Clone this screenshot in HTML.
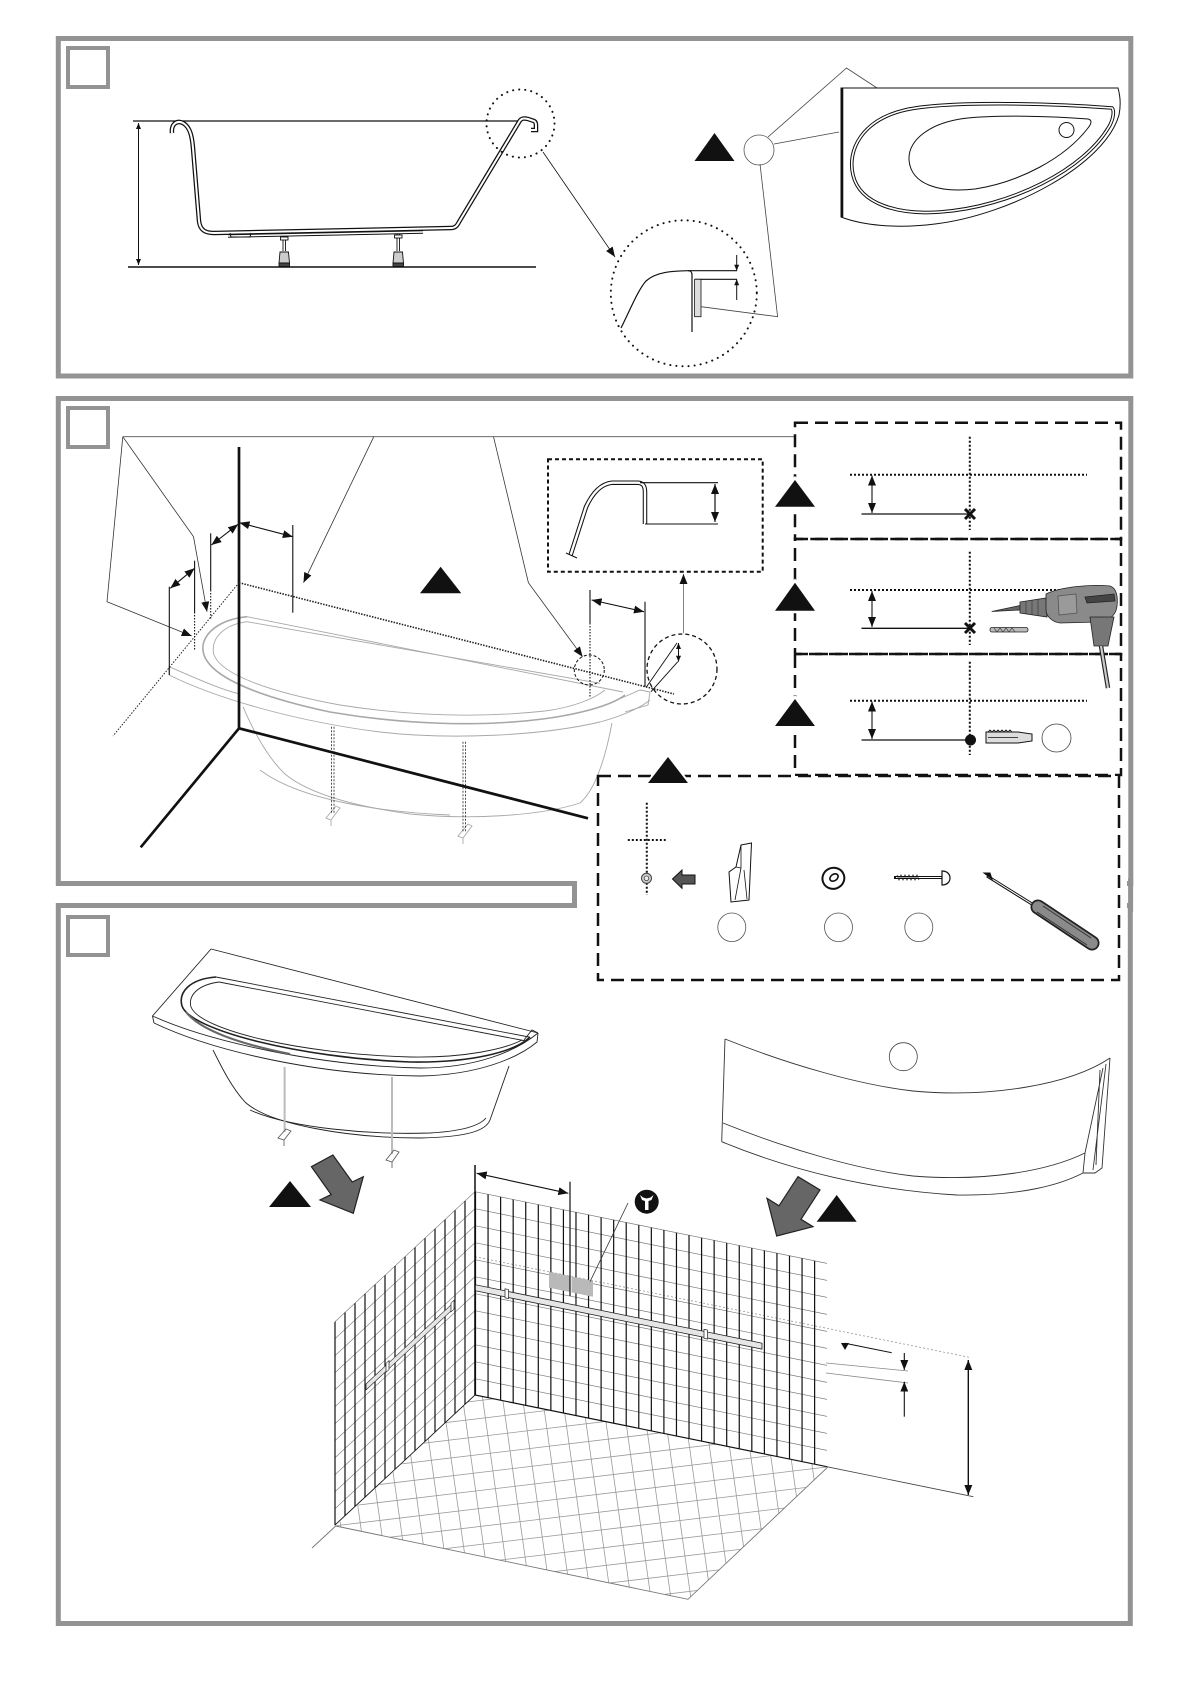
<!DOCTYPE html>
<html><head><meta charset="utf-8"><style>html,body{margin:0;padding:0;background:#fff;}svg{display:block}</style></head>
<body>
<svg width="1192" height="1685" viewBox="0 0 1192 1685" xmlns="http://www.w3.org/2000/svg" font-family="Liberation Sans, sans-serif">
<defs>
<marker id="a" markerUnits="userSpaceOnUse" markerWidth="10" markerHeight="8" viewBox="0 0 10 8" refX="10" refY="4" orient="auto-start-reverse"><path d="M0,0L10,4L0,8Z" fill="#111"/></marker>
<marker id="s" markerUnits="userSpaceOnUse" markerWidth="6" markerHeight="5" viewBox="0 0 6 5" refX="6" refY="2.5" orient="auto-start-reverse"><path d="M0,0L6,2.5L0,5Z" fill="#111"/></marker>
<clipPath id="floorclip"><polygon points="475,1395 335.7,1526 688,1599.3 827.5,1467.3"/></clipPath>
</defs>

<!-- PANEL FRAMES -->
<rect x="58.3" y="38.5" width="1072.5" height="337.5" fill="none" stroke="#939393" stroke-width="5"/>
<rect x="58.3" y="398.5" width="1072.5" height="485" fill="none" stroke="#939393" stroke-width="5"/>
<rect x="58.3" y="905.5" width="1072" height="718" fill="none" stroke="#939393" stroke-width="5"/>
<rect x="577" y="876" width="550" height="37" fill="#fff"/>
<line x1="574.5" y1="881" x2="574.5" y2="908" stroke="#939393" stroke-width="5"/>
<line x1="1130.6" y1="878" x2="1130.6" y2="912" stroke="#939393" stroke-width="5"/>
<rect x="68" y="48" width="40" height="39" fill="none" stroke="#939393" stroke-width="4"/>
<rect x="68" y="408" width="40" height="39" fill="none" stroke="#939393" stroke-width="4"/>
<rect x="68" y="917" width="40" height="38" fill="none" stroke="#939393" stroke-width="4"/>

<!-- ================= PANEL 1 ================= -->
<g stroke="#111" fill="none">
<line x1="133" y1="121" x2="520" y2="121" stroke-width="1.2"/>
<line x1="128" y1="267" x2="536" y2="267" stroke-width="1.5"/>
<line x1="138.5" y1="123" x2="138.5" y2="265" stroke-width="1" marker-start="url(#s)" marker-end="url(#s)"/>
<path d="M172,133 C171,124 177,120 183,123 C190,127 192,136 193,148 L199,221 C200,230 205,233 214,233 L451,228 C455,228 457,226 459,222 L519,122 C521,118 524,118 528,119 L534,121 C536,122 536,124 536,126 L536,130 L531,130" stroke-width="4.5"/>
<path d="M172,133 C171,124 177,120 183,123 C190,127 192,136 193,148 L199,221 C200,230 205,233 214,233 L451,228 C455,228 457,226 459,222 L519,122 C521,118 524,118 528,119 L534,121 C536,122 536,124 536,126 L536,130 L531,130" stroke="#fff" stroke-width="2"/>
<path d="M228,236 L423,232" stroke-width="3.5"/>
<path d="M228,236 L423,232" stroke="#fff" stroke-width="1.5"/>
<path d="M230,233 L231,237 L250,237 L251,233" stroke-width="1"/>
<g stroke-width="0.9">
<line x1="283" y1="236" x2="283" y2="251"/><line x1="285.5" y1="236" x2="285.5" y2="251"/>
<rect x="280.5" y="237" width="7.5" height="3" fill="#fff"/>
<path d="M280,252 L288.5,252 L289.5,263 L279,263 Z" fill="#ccc"/>
<rect x="279" y="263" width="10.5" height="3.5" fill="#444"/>
<line x1="397" y1="234" x2="397" y2="251"/><line x1="399.5" y1="234" x2="399.5" y2="251"/>
<rect x="394.5" y="235" width="7.5" height="3" fill="#fff"/>
<path d="M394,252 L402.5,252 L403.5,263 L393,263 Z" fill="#ccc"/>
<rect x="393" y="263" width="10.5" height="3.5" fill="#444"/>
</g>
<circle cx="520.5" cy="123.5" r="34" stroke-width="2" stroke-dasharray="0.1 6" stroke-linecap="round"/>
<line x1="543" y1="152" x2="615" y2="257" stroke-width="0.8" marker-end="url(#a)"/>
<circle cx="683.8" cy="293.3" r="73" stroke-width="2" stroke-dasharray="0.1 6" stroke-linecap="round"/>
<path d="M621,328 C630,310 638,290 646,281 C656,272 672,271 688,270.7 C691,270.7 692,272 692,275 L692,332" stroke-width="1.2"/>
<line x1="688" y1="270.7" x2="737" y2="270.7" stroke-width="1.2"/>
<line x1="695" y1="279.3" x2="737" y2="279.3" stroke-width="1.2"/>
<rect x="694.6" y="279.3" width="6.4" height="37.4" fill="#ddd" stroke-width="0.8"/>
<line x1="736.7" y1="255" x2="736.7" y2="270.7" stroke-width="1" marker-end="url(#s)"/>
<line x1="736.7" y1="300" x2="736.7" y2="279.3" stroke-width="1" marker-end="url(#s)"/>
<circle cx="759" cy="150" r="15" stroke="#555" stroke-width="0.8"/>
<path d="M768,137 L846.5,68 L877,88 M774,144 L839,132 M760,164 L777.6,316.7 L701,306.7" stroke="#444" stroke-width="0.8"/>
<path d="M841,88 L1118,88 C1120,95 1121,105 1119,115 C1105,165 1010,215 935,224 C895,229 862,225 841,217 Z" stroke-width="1"/>
<line x1="842" y1="88" x2="842" y2="217" stroke-width="2.6"/>
<path d="M1112,108 C1060,104 950,100 905,110 C862,120 847,150 853,175 C860,205 900,215 940,212 C1010,207 1085,170 1110,125 C1114,117 1114,110 1112,108 Z" stroke-width="3.6"/>
<path d="M1112,108 C1060,104 950,100 905,110 C862,120 847,150 853,175 C860,205 900,215 940,212 C1010,207 1085,170 1110,125 C1114,117 1114,110 1112,108 Z" stroke="#fff" stroke-width="1.6"/>
<path d="M1088,119 C1050,116 1000,115 968,118 C930,122 908,140 909,160 C911,185 940,193 975,189 C1020,182 1065,158 1088,128 C1092,123 1092,120 1088,119 Z" stroke-width="1"/>
<circle cx="1066.5" cy="130" r="7.5" stroke-width="1"/>
</g>
<path d="M714.5,133 L734.5,161 L694.5,161 Z" fill="#111"/>

<!-- ================= PANEL 2 ================= -->
<g fill="none">
<path d="M122.8,436.7 L795,436.7" stroke="#555" stroke-width="0.9"/>
<path d="M122.8,436.7 L193.5,536.7 L207,611.7" stroke="#333" stroke-width="0.8" marker-end="url(#a)"/>
<path d="M122.8,436.7 L107,601.7 L191.7,636" stroke="#333" stroke-width="0.8" marker-end="url(#a)"/>
<path d="M373.8,436.7 L303.5,582.7" stroke="#333" stroke-width="0.8" marker-end="url(#a)"/>
<path d="M493.5,436.7 L528.4,582.7 L582.6,656.7" stroke="#333" stroke-width="0.8" marker-end="url(#a)"/>

<g stroke="#a8a8a8" stroke-width="0.9">
<path d="M169,666.7 L169,675"/>
<path d="M169,666.7 C200,680 222,690 240,694"/>
<path d="M169,675 C220,700 300,722 380,732 C450,740 540,736 600,722 C625,715 640,708 650,700"/>
<path d="M247,616.7 L623,692"/>
<path d="M247,616.7 C215,620 198,638 204,655 C212,678 260,697 330,712 C400,724 480,728 550,718 C590,712 615,703 625,695" stroke-width="1.6"/>
<path d="M247,621.7 L600,683.3"/>
<path d="M247,621.7 C222,625 210,640 214,655 C222,675 270,692 340,705 C410,716 480,718 545,711 C575,707 595,698 605,690"/>
<path d="M243,706.7 C255,735 270,760 285,774 C310,795 360,807 410,814 C470,820 540,816 580,803 C595,790 605,760 612,723"/>
<path d="M260,770 C300,800 380,812 450,815"/>
<path d="M617,700 L640,690 L650,692 L648,705 L625,712"/>
<path d="M326,818 L336,806 L340,808 L331,820 Z M331,820 L331,826"/>
<path d="M458,836 L468,824 L472,826 L463,838 Z M463,838 L463,844"/>
</g>
<g stroke="#222" stroke-width="0.8" stroke-dasharray="2 1.5">
<path d="M331.5,726.7 L331.5,813.3 M334,726.7 L334,813.3"/>
<path d="M463,741.7 L463,831.7 M465.5,741.7 L465.5,831.7"/>
</g>

<path d="M239,447 L239,728.3 M239,728.3 L140.7,847.3 M239,728.3 L588,818.3" stroke="#111" stroke-width="2.7"/>
<path d="M239,582.7 L674,694" stroke="#222" stroke-width="1.6" stroke-dasharray="1.5 1.3"/>
<path d="M239,582.7 L113,736" stroke="#222" stroke-width="1" stroke-dasharray="1.5 1.5"/>

<g stroke="#111" stroke-width="1.1">
<path d="M169.3,586.7 L169.3,675"/>
<path d="M194.6,560.7 L194.6,612"/><path d="M194.6,612 L194.6,650" stroke-dasharray="1.5 1.5"/>
<path d="M210.7,533.3 L210.7,590"/><path d="M210.7,590 L210.7,620" stroke-dasharray="1.5 1.5"/>
<path d="M292.8,525 L292.8,612.7"/>
<path d="M590,590 L590,623"/><path d="M590,623 L590,696.7" stroke-dasharray="1.5 1.5"/>
<path d="M645,601.7 L645,686.7"/>
<path d="M170.3,588.3 L194.6,568.3" marker-start="url(#a)" marker-end="url(#a)"/>
<path d="M211.4,545 L238.1,524.3" marker-start="url(#a)" marker-end="url(#a)"/>
<path d="M239.5,522.7 L292.8,536.7" marker-start="url(#a)" marker-end="url(#a)"/>
<path d="M591.6,600 L644,611.7" marker-start="url(#a)" marker-end="url(#a)"/>
</g>

<rect x="548" y="459.3" width="214.7" height="112.4" stroke="#111" stroke-width="2" stroke-dasharray="4 3"/>
<path d="M570.6,555 L586,507 C592,494 600,484 612,482.7 L638,482.7 C643,483 645,486 645,492 L645,524" stroke="#111" stroke-width="4.5"/>
<path d="M570.6,555 L586,507 C592,494 600,484 612,482.7 L638,482.7 C643,483 645,486 645,492 L645,524" stroke="#fff" stroke-width="2.4"/>
<path d="M566,553 L577,558" stroke="#111" stroke-width="1"/>
<path d="M640,482.7 L718,482.7 M645,524 L718,524" stroke="#111" stroke-width="1.1"/>
<line x1="715" y1="484" x2="715" y2="522" stroke="#111" stroke-width="1.2" marker-start="url(#a)" marker-end="url(#a)"/>
<line x1="683.5" y1="633" x2="683.5" y2="574" stroke="#777" stroke-width="0.9" marker-end="url(#a)"/>
<circle cx="682" cy="669" r="35" stroke="#111" stroke-width="1.3" stroke-dasharray="4 3"/>
<circle cx="589.3" cy="670" r="15" stroke="#111" stroke-width="1" stroke-dasharray="3 2"/>
<path d="M646.4,687 L677,643 M651,691.7 L677.8,661.7" stroke="#111" stroke-width="0.9"/>
<line x1="678.5" y1="652" x2="678.5" y2="643" stroke="#111" stroke-width="1" marker-end="url(#s)"/>
<line x1="678.5" y1="652" x2="678.5" y2="661.7" stroke="#111" stroke-width="1" marker-end="url(#s)"/>
</g>
<path d="M440.6,566.7 L461.3,593.3 L420,593.3 Z" fill="#111"/>

<g fill="none" stroke="#111" stroke-width="2.5" stroke-dasharray="13 7">
<rect x="795" y="422.7" width="326" height="116.3"/>
<rect x="795" y="539" width="326" height="115"/>
<rect x="795" y="654" width="326" height="121"/>
</g>
<g fill="none" stroke="#111">
<path d="M850,474.7 L1087,474.7" stroke-width="2" stroke-dasharray="2 2"/>
<path d="M969.8,436.7 L969.8,530" stroke-width="2" stroke-dasharray="2 2"/>
<line x1="872" y1="475.5" x2="872" y2="513" stroke-width="1.1" marker-start="url(#a)" marker-end="url(#a)"/>
<line x1="861.5" y1="514" x2="968.6" y2="514" stroke-width="1.3"/>
<path d="M965,509 L975,519 M975,509 L965,519" stroke-width="3"/>
<path d="M850,590 L1087,590" stroke-width="2" stroke-dasharray="2 2"/>
<path d="M969.8,551.7 L969.8,645" stroke-width="2" stroke-dasharray="2 2"/>
<line x1="872" y1="591" x2="872" y2="627" stroke-width="1.1" marker-start="url(#a)" marker-end="url(#a)"/>
<line x1="861.5" y1="628.3" x2="968.6" y2="628.3" stroke-width="1.3"/>
<path d="M965,623 L975,633 M975,623 L965,633" stroke-width="3"/>
<path d="M850,700.7 L1087,700.7" stroke-width="2" stroke-dasharray="2 2"/>
<path d="M969.8,661.7 L969.8,755" stroke-width="2" stroke-dasharray="2 2"/>
<line x1="872" y1="701.5" x2="872" y2="739" stroke-width="1.1" marker-start="url(#a)" marker-end="url(#a)"/>
<line x1="861.5" y1="740" x2="968.6" y2="740" stroke-width="1.3"/>
<circle cx="970.5" cy="740" r="5.5" fill="#111" stroke="none"/>
<path d="M986,732 L1018,732 L1032,734 L1032,741 L1018,743 L986,743 Z" fill="#ddd" stroke-width="1"/>
<path d="M988,732 l2,-2 l2,2 l2,-2 l2,2 l2,-2 l2,2 l2,-2 l2,2 l2,-2 l2,2 l2,-2 l2,2 M988,737.5 L1018,737.5" stroke-width="0.8"/>
<ellipse cx="1056.5" cy="738" rx="14.5" ry="14" stroke="#444" stroke-width="0.8"/>
</g>
<g stroke="#222" stroke-width="0.8">
<path d="M991.7,611.5 L1020,605.5 L1020,610 Z" fill="#666"/>
<path d="M1020,602 L1046,598 L1047,617 L1020,613 Z" fill="#777"/>
<path d="M1026,601 L1026,614 M1032,600 L1032,615 M1038,599.5 L1038,616" stroke="#444"/>
<path d="M1046,594 C1060,587 1090,584 1110,586 C1117,588 1118,598 1117,606 C1116,616 1108,621 1100,622 L1060,623 C1052,622 1046,616 1046,610 Z" fill="#8a8a8a"/>
<path d="M1085,597 L1114,594 L1115,601 L1087,603 Z" fill="#444"/>
<path d="M1058,596 L1076,594 L1077,613 L1059,615 Z" fill="#9a9a9a" stroke="#555"/>
<path d="M1090,617 L1114,617 L1108,646 L1094,646 Z" fill="#777"/>
<path d="M1101,646 L1108,688" stroke="#222" stroke-width="4.5"/>
<path d="M1101,646 L1108,688" stroke="#ccc" stroke-width="2.2"/>
<rect x="990" y="627.5" width="38" height="4.5" rx="2" fill="#bbb"/>
<path d="M994,628 l3,4 l3,-4 l3,4 l3,-4 l3,4 l3,-4 l3,4" fill="none" stroke="#444" stroke-width="0.7"/>
</g>
<g fill="#111" stroke="#fff" stroke-width="5" paint-order="stroke">
<path d="M795,480 L815,506.7 L775,506.7 Z"/>
<path d="M795,582.7 L815,610.7 L775,610.7 Z"/>
<path d="M795,699 L815,726 L775,726 Z"/>
</g>

<rect x="598" y="776" width="521" height="204" fill="#fff" stroke="#111" stroke-width="2.5" stroke-dasharray="13 7"/>
<path d="M668,757 L688,783 L648,783 Z" fill="#111" stroke="#fff" stroke-width="4" paint-order="stroke"/>
<g fill="none" stroke="#111">
<path d="M627.8,840 L665.7,840" stroke-width="2" stroke-dasharray="2 2"/>
<path d="M646.8,802.7 L646.8,895" stroke-width="2" stroke-dasharray="2 2"/>
<circle cx="646.5" cy="878.3" r="5" fill="#ccc" stroke="#444" stroke-width="1"/>
<circle cx="646.5" cy="878.3" r="2.3" fill="#eee" stroke="#444" stroke-width="0.8"/>
<path d="M672.5,879 L682,870 L682,875 L695,875 L695,884 L682,884 L682,888.3 Z" fill="#555" stroke-width="1"/>
<path d="M741,845 L751.5,843 L749,900 L731,902 L729,872 L736,867 Z" fill="#fff" stroke-width="1"/>
<path d="M741,845 L741,868 L736,867 M741,868 L735,900 M744,870 L747,899" stroke-width="0.8"/>
<ellipse cx="833.4" cy="878.3" rx="11" ry="10.5" stroke-width="2" transform="rotate(-20 833.4 878.3)"/>
<ellipse cx="834" cy="877.5" rx="4.5" ry="3.2" stroke-width="1.6" transform="rotate(-35 834 877.5)"/>
<path d="M894,877.5 L942,877.5" stroke-width="3"/>
<path d="M896,877.5 L942,877.5" stroke="#fff" stroke-width="1"/>
<path d="M897,875 l2,5 l2,-5 l2,5 l2,-5 l2,5 l2,-5 l2,5 l2,-5 l2,5 l2,-5 l2,5" stroke-width="0.7"/>
<path d="M942,871 C947,871 950,874 950,878 C950,882 947,885 942,885 Z" fill="#fff" stroke-width="1.2"/>
<path d="M987,876 L1040,909" stroke-width="3"/>
<path d="M988,876.5 L1040,909" stroke="#fff" stroke-width="1"/>
<path d="M984,873 L990,873 L992,879 Z" fill="#111"/>
<path d="M1038,907 L1092,943" stroke="#222" stroke-width="15" stroke-linecap="round"/>
<path d="M1038,907 L1092,943" stroke="#8a8a8a" stroke-width="11.5" stroke-linecap="round"/>
<path d="M1043,906 L1091,938 M1037,912 L1087,945" stroke="#333" stroke-width="1"/>
<ellipse cx="731.8" cy="927.3" rx="14" ry="14.3" stroke="#555" stroke-width="0.8"/>
<ellipse cx="838.5" cy="927.3" rx="14" ry="14.3" stroke="#555" stroke-width="0.8"/>
<ellipse cx="918.8" cy="927.3" rx="14" ry="14.3" stroke="#555" stroke-width="0.8"/>
</g>

<!-- ================= PANEL 3 ================= -->
<g fill="none" stroke="#222" stroke-width="0.9">
<path d="M211,949 L538,1033 M211,949 L152.5,1016 L154,1023"/>
<path d="M152.5,1016 C210,1042 320,1066 420,1068 C475,1068 515,1052 538,1033"/>
<path d="M154,1023 C215,1052 320,1075 420,1076 C478,1075 518,1058 537,1042 L538,1033"/>
<path d="M216,977 L529,1037"/>
<path d="M216,977 C190,979 178,992 182,1006 C190,1030 300,1058 410,1062 C470,1063 515,1052 530,1037" stroke-width="1.6"/>
<path d="M219,982 L526,1041"/>
<path d="M219,982 C197,985 188,996 191,1007 C200,1030 300,1054 410,1057 C465,1058 505,1049 522,1040"/>
<path d="M186,1012 C200,1030 240,1044 290,1054" stroke="#666" stroke-width="2"/>
<path d="M213,1050 C222,1068 232,1088 245,1102 C270,1125 350,1138 420,1138 C470,1137 486,1130 490,1120 L509,1066"/>
<path d="M250,1110 C290,1128 370,1135 430,1133 C465,1131 480,1125 486,1118"/>
<path d="M524,1040 L532,1030 L538,1033"/>
</g>
<g fill="none" stroke="#bbb" stroke-width="2">
<path d="M284.6,1067 L284.6,1132"/><path d="M392,1077 L392,1154"/>
</g>
<g fill="none" stroke="#555" stroke-width="0.8">
<path d="M278,1138 L286,1129 L291,1131 L284,1140 Z M284,1140 L284,1146"/>
<path d="M386,1160 L394,1150 L399,1152 L392,1162 Z M392,1162 L392,1168"/>
</g>

<g fill="none" stroke="#333" stroke-width="0.9">
<path d="M725,1039 C790,1065 860,1085 913,1091 C990,1098 1070,1085 1110,1058"/>
<path d="M725,1039 L721.7,1141.7"/>
<path d="M723,1123 C790,1150 860,1170 913,1176 C990,1182 1050,1170 1085,1153"/>
<path d="M721.7,1141.7 C790,1170 870,1190 957,1195 C1020,1196 1060,1185 1083,1173"/>
<path d="M1110,1058 L1102,1168 L1095,1173 L1083,1173 M1103,1068 L1085,1153 M1106,1064 L1093,1170 M1100,1070 L1096,1165 M1085,1153 L1083,1173"/>
<circle cx="903.3" cy="1056.7" r="14" stroke="#444" stroke-width="0.8"/>
</g>

<polygon points="798,1176.7 820,1190 801,1219.3 813,1226.7 776.7,1236 767,1198.3 779,1205.8" fill="#666" stroke="#222" stroke-width="1.2"/>
<polygon points="311.4,1166.7 332.9,1155 352.2,1182 363.3,1176.7 353.3,1213.3 320,1200 331.2,1194.6" fill="#666" stroke="#222" stroke-width="1.2"/>
<path d="M290,1181 L311,1207 L269,1207 Z" fill="#111"/>
<path d="M836.7,1195 L856.7,1221.7 L816.7,1221.7 Z" fill="#111"/>

<g clip-path="url(#floorclip)" fill="none" stroke="#9a9a9a" stroke-width="0.8">
<path d="M240,1380 l34,240 m-14,-240 l34,240 m-14,-240 l34,240 m-14,-240 l34,240 m-14,-240 l34,240 m-14,-240 l34,240 m-14,-240 l34,240 m-14,-240 l34,240 m-14,-240 l34,240 m-14,-240 l34,240 m-14,-240 l34,240 m-14,-240 l34,240 m-14,-240 l34,240 m-14,-240 l34,240 m-14,-240 l34,240 m-14,-240 l34,240 m-14,-240 l34,240 m-14,-240 l34,240 m-14,-240 l34,240 m-14,-240 l34,240 m-14,-240 l34,240 m-14,-240 l34,240 m-14,-240 l34,240 m-14,-240 l34,240 m-14,-240 l34,240 m-14,-240 l34,240 m-14,-240 l34,240 m-14,-240 l34,240 m-14,-240 l34,240 m-14,-240 l34,240 m-14,-240 l34,240 m-14,-240 l34,240"/>
<path d="M300,1404 l560,-67 m-560,85 l560,-67 m-560,85 l560,-67 m-560,85 l560,-67 m-560,85 l560,-67 m-560,85 l560,-67 m-560,85 l560,-67 m-560,85 l560,-67 m-560,85 l560,-67 m-560,85 l560,-67 m-560,85 l560,-67 m-560,85 l560,-67 m-560,85 l560,-67 m-560,85 l560,-67 m-560,85 l560,-67"/>
</g>
<path d="M335.7,1526 L688,1599.3 L827.5,1467.3 M335.7,1526 L312,1548" fill="none" stroke="#777" stroke-width="0.9"/>

<g transform="matrix(1,0.2036,0,1,475,1191.7)" fill="none">
<path d="M0,0 h352 m-352,17 h352 m-352,17 h352 m-352,17 h352 m-352,17 h352 m-352,17 h352 m-352,17 h352 m-352,17 h352 m-352,17 h352 m-352,17 h352 m-352,17 h352 m-352,17 h352" stroke="#7a7a7a" stroke-width="0.7"/>
<path d="M0,65 H495" stroke="#999" stroke-width="0.8" stroke-dasharray="2 2"/>
<path d="M0.5,0v203.3m12.56,-203.3v203.3m12.56,-203.3v203.3m12.56,-203.3v203.3m12.56,-203.3v203.3m12.56,-203.3v203.3m12.56,-203.3v203.3m12.56,-203.3v203.3m12.56,-203.3v203.3m12.56,-203.3v203.3m12.56,-203.3v203.3m12.56,-203.3v203.3m12.56,-203.3v203.3m12.56,-203.3v203.3m12.56,-203.3v203.3m12.56,-203.3v203.3m12.56,-203.3v203.3m12.56,-203.3v203.3m12.56,-203.3v203.3m12.56,-203.3v203.3m12.56,-203.3v203.3m12.56,-203.3v203.3m12.56,-203.3v203.3m12.56,-203.3v203.3m12.56,-203.3v203.3m12.56,-203.3v203.3m12.56,-203.3v203.3m12.56,-203.3v203.3" stroke="#111" stroke-width="1.2"/>
<rect x="74" y="65" width="44" height="16" fill="#b9b9b9" stroke="none"/>
<line x1="96" y1="65" x2="96" y2="81" stroke="#fff" stroke-width="1"/>
<rect x="0" y="93" width="287" height="6" fill="#e6e6e6" stroke="#222" stroke-width="0.8"/>
<rect x="30" y="91" width="3.5" height="9" fill="#fff" stroke="#222" stroke-width="0.7"/>
<rect x="229" y="91" width="3.5" height="9" fill="#fff" stroke="#222" stroke-width="0.7"/>
<line x1="0" y1="203.3" x2="352" y2="203.3" stroke="#111" stroke-width="1.2"/>
</g>
<g transform="matrix(1,-0.9286,0,1,475,1191.7)" fill="none">
<path d="M0,0 h-140 m140,17 h-140 m140,17 h-140 m140,17 h-140 m140,17 h-140 m140,17 h-140 m140,17 h-140 m140,17 h-140 m140,17 h-140 m140,17 h-140 m140,17 h-140 m140,17 h-140" stroke="#7a7a7a" stroke-width="0.8"/>
<path d="M0,0v203.3m-10,-203.3v203.3m-10,-203.3v203.3m-10,-203.3v203.3m-10,-203.3v203.3m-10,-203.3v203.3m-10,-203.3v203.3m-10,-203.3v203.3m-10,-203.3v203.3m-10,-203.3v203.3m-10,-203.3v203.3m-10,-203.3v203.3m-10,-203.3v203.3m-10,-203.3v203.3m-10,-203.3v203.3" stroke="#111" stroke-width="1.2"/>
<rect x="-109" y="91" width="89" height="6" fill="#e6e6e6" stroke="#222" stroke-width="0.8"/>
<rect x="-89" y="89" width="3" height="9" fill="#fff" stroke="#222" stroke-width="0.7"/>
<rect x="-24" y="89" width="3" height="9" fill="#fff" stroke="#222" stroke-width="0.7"/>
<line x1="0" y1="203.3" x2="-140" y2="203.3" stroke="#111" stroke-width="1.2"/>
</g>
<line x1="475" y1="1165" x2="475" y2="1395" stroke="#111" stroke-width="1.5"/>
<line x1="570" y1="1181.7" x2="570" y2="1296" stroke="#111" stroke-width="1.2"/>
<line x1="476.7" y1="1173.3" x2="568.3" y2="1193.3" stroke="#111" stroke-width="1.1" marker-start="url(#a)" marker-end="url(#a)"/>
<line x1="628" y1="1203" x2="590" y2="1281.7" stroke="#333" stroke-width="0.8"/>
<circle cx="646.7" cy="1201.7" r="12" fill="#111"/>
<path d="M640,1195 L642,1200 L645,1201 L645,1210 L648.5,1210 L648.5,1201 L651.5,1200 L653.5,1195 L650.5,1197.5 L646.7,1198.5 L643,1197.5 Z" fill="#fff"/>

<g fill="none" stroke="#111">
<path d="M845,1343.3 L891.7,1352.7" stroke-width="1"/>
<path d="M841,1343 L849,1343 L845,1350 Z" fill="#111" stroke="none"/>
<path d="M826,1363 L908,1371 M826,1373 L908,1383" stroke="#888" stroke-width="0.8"/>
<line x1="904.3" y1="1353" x2="904.3" y2="1370" stroke-width="1.1" marker-end="url(#a)"/>
<line x1="904.3" y1="1416.7" x2="904.3" y2="1381.7" stroke-width="1.1" marker-end="url(#a)"/>
<line x1="968.3" y1="1360" x2="968.3" y2="1495" stroke-width="1.4" marker-start="url(#a)" marker-end="url(#a)"/>
<path d="M826.7,1466.7 L973.3,1496.7" stroke="#444" stroke-width="0.8"/>
</g>
</svg>
</body></html>
